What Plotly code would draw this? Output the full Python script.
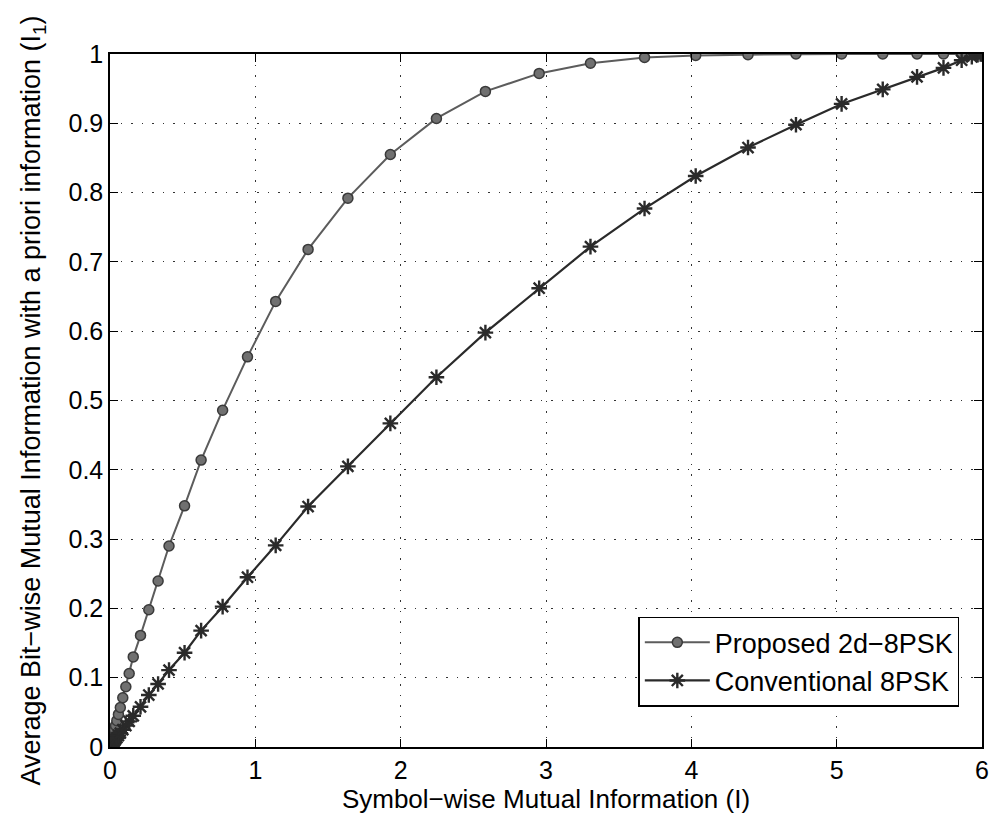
import plotly.graph_objects as go

x_vals = [0.0, 0.010, 0.013, 0.016, 0.020, 0.025, 0.031, 0.038, 0.047, 0.058, 0.071, 0.088,
          0.109, 0.132, 0.160, 0.210, 0.267, 0.331, 0.406, 0.513, 0.627, 0.775, 0.946,
          1.140, 1.363, 1.637, 1.929, 2.246, 2.583, 2.953, 3.306, 3.678, 4.030, 4.390,
          4.720, 5.034, 5.317, 5.553, 5.735, 5.860, 5.930, 5.970, 5.990, 6.0]

proposed_y = [0.0, 0.008, 0.0105, 0.013, 0.016, 0.020, 0.025, 0.031, 0.038, 0.047, 0.057, 0.071,
              0.087, 0.106, 0.130, 0.161, 0.198, 0.2395, 0.290, 0.348, 0.414, 0.486, 0.563,
              0.643, 0.718, 0.792, 0.855, 0.907, 0.946, 0.972, 0.9866, 0.995, 0.998, 0.999,
              1.0, 1.0, 1.0, 1.0, 1.0, 1.0, 1.0, 1.0, 1.0, 1.0]

conventional_y = [0.0, 0.003, 0.0037, 0.0046, 0.0057, 0.007, 0.0088, 0.011, 0.0134, 0.0166, 0.020, 0.025,
                  0.031, 0.037, 0.045, 0.058, 0.075, 0.091, 0.111, 0.136, 0.168, 0.2025, 0.245,
                  0.291, 0.347, 0.405, 0.467, 0.5335, 0.598, 0.662, 0.722, 0.777, 0.824, 0.865,
                  0.898, 0.928, 0.949, 0.967, 0.980, 0.991, 0.996, 0.999, 1.0, 1.0]

x_ticks = [0, 1, 2, 3, 4, 5, 6]
y_ticks = [0, 0.1, 0.2, 0.3, 0.4, 0.5, 0.6, 0.7, 0.8, 0.9, 1]
y_tick_text = ["0", "0.1", "0.2", "0.3", "0.4", "0.5", "0.6", "0.7", "0.8", "0.9", "1"]

fig = go.Figure()
fig.add_trace(go.Scatter(
    x=x_vals, y=proposed_y, mode="lines+markers", name="Proposed 2d\u22128PSK",
    line=dict(color="#5c5c5c", width=2),
    marker=dict(symbol="circle", size=10, color="#707070", line=dict(color="#3a3a3a", width=1.5)),
))
fig.add_trace(go.Scatter(
    x=x_vals, y=conventional_y, mode="lines+markers", name="Conventional 8PSK",
    line=dict(color="#2a2a2a", width=2.2),
    marker=dict(symbol="asterisk-open", size=13, color="#2a2a2a", line=dict(color="#2a2a2a", width=2.4)),
))

font_family = "Liberation Sans, Arial, sans-serif"
grid_dash = "1.5px,9px"

fig.update_layout(
    width=1001, height=821,
    margin=dict(l=110, r=14, t=54, b=74),
    paper_bgcolor="white", plot_bgcolor="white",
    font=dict(family=font_family, color="black", size=24),
    showlegend=True,
    legend=dict(
        x=0.974, y=0.058, xanchor="right", yanchor="bottom",
        bgcolor="white", bordercolor="black", borderwidth=1.5,
        font=dict(size=27, family=font_family, color="black"),
        itemwidth=65, tracegroupgap=0,
    ),
)
fig.update_xaxes(
    range=[0, 6], tickvals=x_ticks, ticktext=[str(t) for t in x_ticks],
    showline=True, linecolor="black", linewidth=1.5, mirror="ticks",
    ticks="inside", ticklen=8, tickcolor="black", tickwidth=1.2,
    showgrid=True, gridcolor="#333333", griddash=grid_dash, gridwidth=1.3,
    zeroline=False,
    tickfont=dict(size=25, family=font_family),
    title=dict(text="Symbol\u2212wise Mutual Information (I)", font=dict(size=26, family=font_family), standoff=0),
)
fig.update_yaxes(
    range=[0, 1], tickvals=y_ticks, ticktext=y_tick_text,
    showline=True, linecolor="black", linewidth=1.5, mirror="ticks",
    ticks="inside", ticklen=8, tickcolor="black", tickwidth=1.2,
    showgrid=True, gridcolor="#333333", griddash=grid_dash, gridwidth=1.3,
    zeroline=False,
    tickfont=dict(size=25, family=font_family),
    title=dict(text="Average Bit\u2212wise Mutual Information with a priori information (I<sub>1</sub>)",
               font=dict(size=27, family=font_family), standoff=20),
)

fig.write_html("out.html")
